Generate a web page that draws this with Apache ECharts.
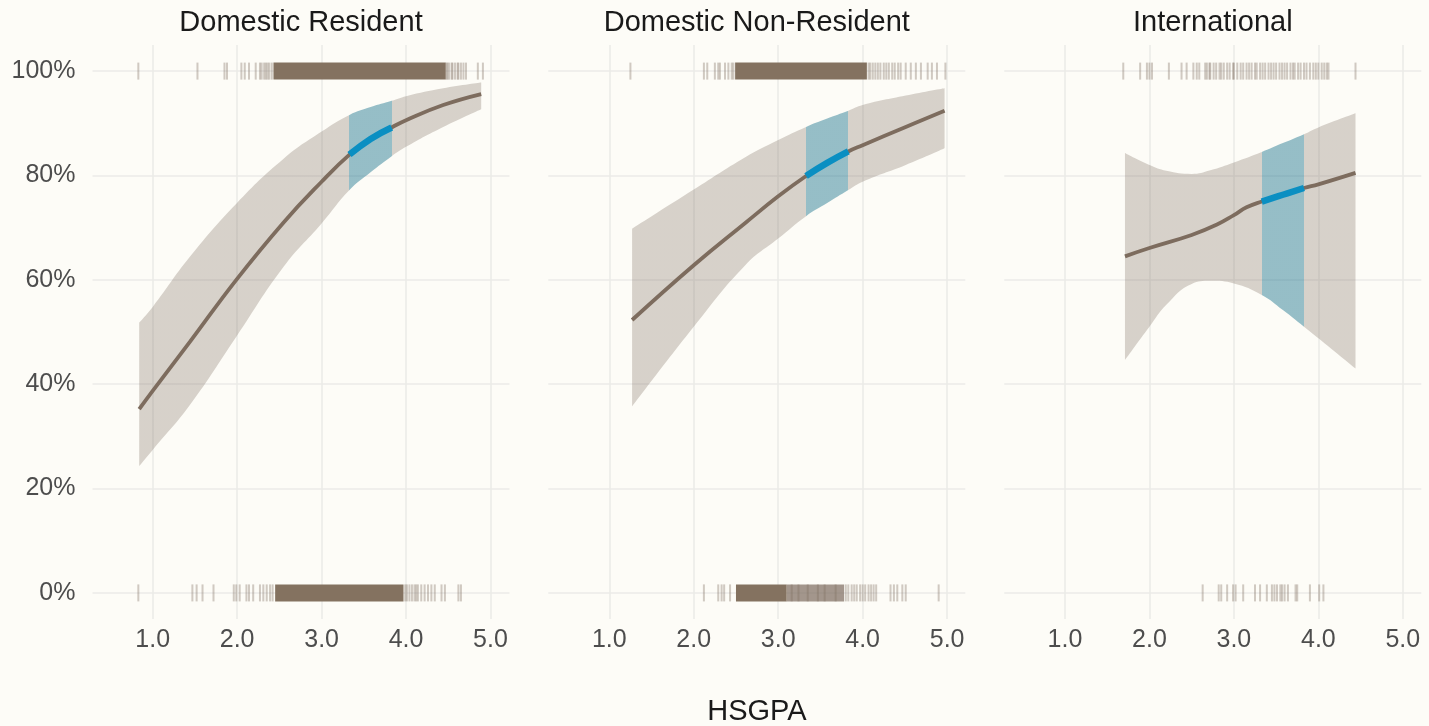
<!DOCTYPE html>
<html>
<head>
<meta charset="utf-8">
<script src="https://cdn.jsdelivr.net/npm/echarts@6/dist/echarts.min.js"></script>
<style>
html,body{margin:0;padding:0;background:#fdfcf7;}
#c{width:1429px;height:726px;}
</style>
</head>
<body>
<div id="c"></div>
<script>
// ---------------- DATA ----------------
const panelTitles = ['Domestic Resident', 'Domestic Non-Resident', 'International'];
const axisTitle = 'HSGPA';
const xTicks = [1, 2, 3, 4, 5];
const yTicks = [0, 20, 40, 60, 80, 100];
const highlightRange = [3.33, 3.83];

// Panel 1: Domestic Resident
const lineX1 = [0.84, 1.0, 1.44, 1.99, 2.55, 3.0, 3.33, 3.58, 3.83, 4.0, 4.44, 4.89];
const lineY1 = [35.2, 38.7, 48.1, 60.0, 71.0, 78.8, 84.0, 87.0, 89.2, 90.6, 93.5, 95.6];
const bandX1 = [0.84, 1.0, 1.44, 1.99, 2.55, 3.0, 3.33, 3.58, 3.83, 4.0, 4.44, 4.89];
const bandUp1 = [51.8, 54.8, 64.4, 74.6, 83.2, 88.4, 91.6, 93.1, 94.3, 95.2, 96.7, 97.8];
const bandLo1 = [24.3, 27.4, 36.0, 49.1, 62.5, 70.8, 77.2, 80.6, 83.7, 85.5, 89.3, 92.7];
const rugTop1 = [0.83, 1.53, 1.85, 1.88, 2.05, 2.09, 2.14, 2.22, 2.27, 2.29, 2.32, 2.34, 2.36, 2.38, 2.41,
                 4.48, 4.49, 4.51, 4.54, 4.55, 4.58, 4.61, 4.62, 4.65, 4.68, 4.71, 4.85, 4.91];
const rugTopDense1 = [[2.43, 4.47]];
const rugBot1 = [0.83, 1.47, 1.52, 1.59, 1.72, 1.96, 1.99, 2.03, 2.11, 2.14, 2.19, 2.27, 2.31, 2.35, 2.39, 2.42,
                 3.99, 4.01, 4.04, 4.07, 4.10, 4.12, 4.14, 4.18, 4.22, 4.26, 4.30, 4.34, 4.42, 4.46, 4.62, 4.65];
const rugBotDense1 = [[2.45, 3.97]];

// Panel 2: Domestic Non-Resident
const lineX2 = [1.27, 2.0, 2.61, 3.0, 3.33, 3.58, 3.83, 4.0, 4.51, 4.97];
const lineY2 = [52.3, 62.8, 70.9, 76.0, 79.9, 82.4, 84.6, 85.8, 89.3, 92.4];
const bandX2 = [1.27, 2.0, 2.61, 3.0, 3.33, 3.58, 3.83, 4.0, 4.51, 4.97];
const bandUp2 = [69.8, 77.3, 83.5, 86.8, 89.3, 90.9, 92.4, 93.5, 95.3, 96.7];
const bandLo2 = [35.7, 51.0, 62.8, 67.9, 72.2, 74.7, 77.2, 78.8, 82.0, 85.2];
const rugTop2 = [1.25, 2.12, 2.16, 2.25, 2.29, 2.31, 2.37, 2.41, 2.45, 2.47,
                 4.07, 4.09, 4.12, 4.15, 4.18, 4.21, 4.25, 4.28, 4.31, 4.35, 4.38, 4.42, 4.45,
                 4.51, 4.57, 4.63, 4.69, 4.77, 4.82, 4.88, 4.98];
const rugTopDense2 = [[2.49, 4.05]];
const rugBot2 = [2.12, 2.29, 2.33, 2.36, 2.43, 3.16, 3.24, 3.35, 3.47, 3.55, 3.68,
                 3.80, 3.83, 3.87, 3.90, 3.93, 3.97, 4.00, 4.03, 4.07,
                 4.10, 4.13, 4.16, 4.33, 4.37, 4.41, 4.47, 4.51, 4.90];
const rugBotDense2 = [[2.50, 3.10]];
const rugBotMid2 = [[3.10, 3.78]];

// Panel 3: International
const lineX3 = [1.71, 2.0, 2.5, 2.8, 3.0, 3.15, 3.33, 3.58, 3.83, 4.0, 4.44];
const lineY3 = [64.5, 66.1, 68.6, 70.6, 72.4, 73.9, 75.0, 76.3, 77.6, 78.3, 80.5];
const bandX3 = [1.71, 2.0, 2.2, 2.5, 2.72, 3.0, 3.33, 3.58, 3.83, 4.0, 4.44];
const bandUp3 = [84.3, 82.0, 80.9, 80.3, 81.0, 82.5, 84.5, 86.2, 87.9, 89.2, 91.9];
const bandLo3 = [44.6, 51.0, 55.2, 59.2, 59.8, 59.3, 57.1, 54.2, 51.0, 48.8, 43.0];
const rugTop3 = [1.69, 1.89, 1.97, 2.00, 2.03, 2.23, 2.38, 2.44, 2.52, 2.56, 2.59,
                 2.66, 2.68, 2.71, 2.72, 2.76, 2.79, 2.83, 2.85, 2.88, 2.92, 2.95, 2.99, 3.00,
                 3.04, 3.08, 3.11, 3.15, 3.18, 3.21, 3.25, 3.27, 3.31, 3.34, 3.37, 3.41, 3.44,
                 3.47, 3.50, 3.54, 3.57, 3.60, 3.63, 3.67, 3.70, 3.72, 3.76, 3.79, 3.83, 3.86,
                 3.90, 3.94, 3.97, 4.00, 4.04, 4.07, 4.10, 4.12, 4.44];
const rugBot3 = [2.63, 2.82, 2.85, 2.92, 2.99, 3.02, 3.11, 3.25, 3.31, 3.39, 3.45, 3.48, 3.51,
                 3.55, 3.57, 3.60, 3.64, 3.73, 3.75, 3.90, 4.01, 4.06];

// ---------------- BUILD ----------------
const FONT = '"Liberation Sans", Arial, Helvetica, sans-serif';
const BG = '#fdfcf7';
const GRID_COLOR = '#ebebe8';
const BROWN = '#7d6c5e';
const BLUE = '#0a8fc2';
const BAND_GRAY = 'rgba(127,111,98,0.30)';
const BAND_BLUE = 'rgba(24,114,140,0.45)';
const RUG_TICK = 'rgba(127,111,98,0.36)';
const RUG_DENSE = '#847260';
const RUG_MID = 'rgba(127,111,98,0.72)';

const panels = [
  {lineX: lineX1, lineY: lineY1, bandX: bandX1, up: bandUp1, lo: bandLo1,
   rugTop: rugTop1, rugBot: rugBot1, denseTop: rugTopDense1, denseBot: rugBotDense1, midTop: [], midBot: []},
  {lineX: lineX2, lineY: lineY2, bandX: bandX2, up: bandUp2, lo: bandLo2,
   rugTop: rugTop2, rugBot: rugBot2, denseTop: rugTopDense2, denseBot: rugBotDense2, midTop: [], midBot: rugBotMid2},
  {lineX: lineX3, lineY: lineY3, bandX: bandX3, up: bandUp3, lo: bandLo3,
   rugTop: rugTop3, rugBot: rugBot3, denseTop: [], denseBot: [], midTop: [], midBot: []}
];

// layout (pixels)
const panelLeft = [92.5, 548.3, 1004.3];
const panelWidth = 417;
const innerLeft = [152.7, 609.3, 1065];
const innerWidth = 337.8;
const PANEL_TOP = 45, PANEL_H = 574;
const RUG_HALF = 8.5;
const SMOOTH = 0.45;

const grids = [], xAxes = [], yAxes = [], series = [], diffSeriesIdx = [];

panels.forEach((p, i) => {
  const gA = 3 * i, gB = 3 * i + 1, gC = 3 * i + 2;
  // grid A: horizontal grid lines + y labels
  grids.push({left: panelLeft[i], top: 71, width: panelWidth, height: 521.7});
  // grid B: vertical grid lines + x labels
  grids.push({left: innerLeft[i], top: PANEL_TOP, width: innerWidth, height: PANEL_H});
  // grid C: data, covers full panel
  grids.push({left: panelLeft[i], top: PANEL_TOP, width: panelWidth, height: PANEL_H});

  const unit = innerWidth / (xTicks[xTicks.length - 1] - xTicks[0]);
  const cMin = xTicks[0] - (innerLeft[i] - panelLeft[i]) / unit;
  const cMax = cMin + panelWidth / unit;

  xAxes.push({type: 'value', gridIndex: gA, min: 0, max: 1, show: false});
  xAxes.push({
    type: 'value', gridIndex: gB, min: xTicks[0], max: xTicks[xTicks.length - 1], interval: 1,
    axisLine: {show: false}, axisTick: {show: false},
    splitLine: {show: true, lineStyle: {color: GRID_COLOR, width: 1.6}},
    axisLabel: {show: true, formatter: v => v.toFixed(1), fontSize: 25, color: '#4d4d4d',
                fontFamily: FONT, margin: 9}
  });
  xAxes.push({type: 'value', gridIndex: gC, min: cMin, max: cMax, show: false});

  yAxes.push({
    type: 'value', gridIndex: gA, min: yTicks[0], max: yTicks[yTicks.length - 1], interval: 20,
    axisLine: {show: false}, axisTick: {show: false},
    splitLine: {show: true, lineStyle: {color: GRID_COLOR, width: 1.6}},
    axisLabel: {show: i === 0, formatter: '{value}%', fontSize: 25, color: '#4d4d4d',
                fontFamily: FONT, margin: 17}
  });
  yAxes.push({type: 'value', gridIndex: gB, min: 0, max: 1, show: false});
  yAxes.push({type: 'value', gridIndex: gC, min: -5, max: 105, show: false});

  const common = {xAxisIndex: gC, yAxisIndex: gC, silent: true, animation: false};
  const lineCommon = Object.assign({}, common, {type: 'line', symbol: 'none', smooth: SMOOTH});

  // band: lower (invisible) + difference (stacked area); y stored first so stacking happens on y
  series.push(Object.assign({}, lineCommon, {
    name: 'lo' + i, stack: 'band' + i, encode: {x: 1, y: 0},
    data: p.bandX.map((x, k) => [p.lo[k], x]),
    lineStyle: {opacity: 0}
  }));
  diffSeriesIdx.push(series.length);
  series.push(Object.assign({}, lineCommon, {
    name: 'band' + i, stack: 'band' + i, encode: {x: 1, y: 0},
    data: p.bandX.map((x, k) => [p.up[k] - p.lo[k], x]),
    lineStyle: {opacity: 0},
    areaStyle: {opacity: 1}
  }));
  // fitted line
  series.push(Object.assign({}, lineCommon, {
    name: 'line' + i,
    data: p.lineX.map((x, k) => [x, p.lineY[k]]),
    lineStyle: {color: BROWN, width: 3.8}
  }));
  // highlighted part of the fitted line
  series.push(Object.assign({}, lineCommon, {
    name: 'hi' + i,
    data: p.lineX.map((x, k) => [x, p.lineY[k]])
      .filter(d => d[0] >= highlightRange[0] - 1e-9 && d[0] <= highlightRange[1] + 1e-9),
    lineStyle: {color: BLUE, width: 6.5, cap: 'butt'}
  }));

  // rug: ranges (dense and medium)
  const rangeItem = (fill) => function (params, api) {
    const a = api.coord([api.value(0), api.value(2)]);
    const b = api.coord([api.value(1), api.value(2)]);
    return {type: 'rect', shape: {x: a[0], y: a[1] - RUG_HALF, width: b[0] - a[0], height: 2 * RUG_HALF},
            style: {fill: fill}};
  };
  const midData = p.midTop.map(r => [r[0], r[1], 100]).concat(p.midBot.map(r => [r[0], r[1], 0]));
  if (midData.length) {
    series.push(Object.assign({}, common, {
      type: 'custom', name: 'rugMid' + i, encode: {x: [0, 1], y: 2},
      data: midData, renderItem: rangeItem(RUG_MID), z: 5
    }));
  }
  const denseData = p.denseTop.map(r => [r[0], r[1], 100]).concat(p.denseBot.map(r => [r[0], r[1], 0]));
  if (denseData.length) {
    series.push(Object.assign({}, common, {
      type: 'custom', name: 'rugDense' + i, encode: {x: [0, 1], y: 2},
      data: denseData, renderItem: rangeItem(RUG_DENSE), z: 5
    }));
  }
  // rug: individual ticks
  series.push(Object.assign({}, common, {
    type: 'custom', name: 'rug' + i, encode: {x: 0, y: 1},
    data: p.rugTop.map(x => [x, 100]).concat(p.rugBot.map(x => [x, 0])),
    renderItem: function (params, api) {
      const c = api.coord([api.value(0), api.value(1)]);
      return {type: 'line', shape: {x1: c[0], y1: c[1] - RUG_HALF, x2: c[0], y2: c[1] + RUG_HALF},
              style: {stroke: RUG_TICK, lineWidth: 2}};
    },
    z: 6
  }));
});

const graphics = panelTitles.map((t, i) => ({
  type: 'text', x: panelLeft[i] + panelWidth / 2, y: 23, silent: true,
  style: {text: t, font: '29px ' + FONT, fill: '#1a1a1a', align: 'center', verticalAlign: 'middle'}
}));
graphics.push({
  type: 'text', x: (panelLeft[0] + panelLeft[2] + panelWidth) / 2, y: 712, silent: true,
  style: {text: axisTitle, font: '29px ' + FONT, fill: '#1a1a1a', align: 'center', verticalAlign: 'middle'}
});

const chart = echarts.init(document.getElementById('c'), null, {renderer: 'canvas'});
chart.setOption({
  backgroundColor: BG,
  animation: false,
  grid: grids,
  xAxis: xAxes,
  yAxis: yAxes,
  visualMap: {
    type: 'piecewise', show: false, dimension: 1, seriesIndex: diffSeriesIdx,
    pieces: [{gte: highlightRange[0], lte: highlightRange[1], color: BAND_BLUE}],
    outOfRange: {color: BAND_GRAY}
  },
  graphic: graphics,
  series: series
});
</script>
</body>
</html>
